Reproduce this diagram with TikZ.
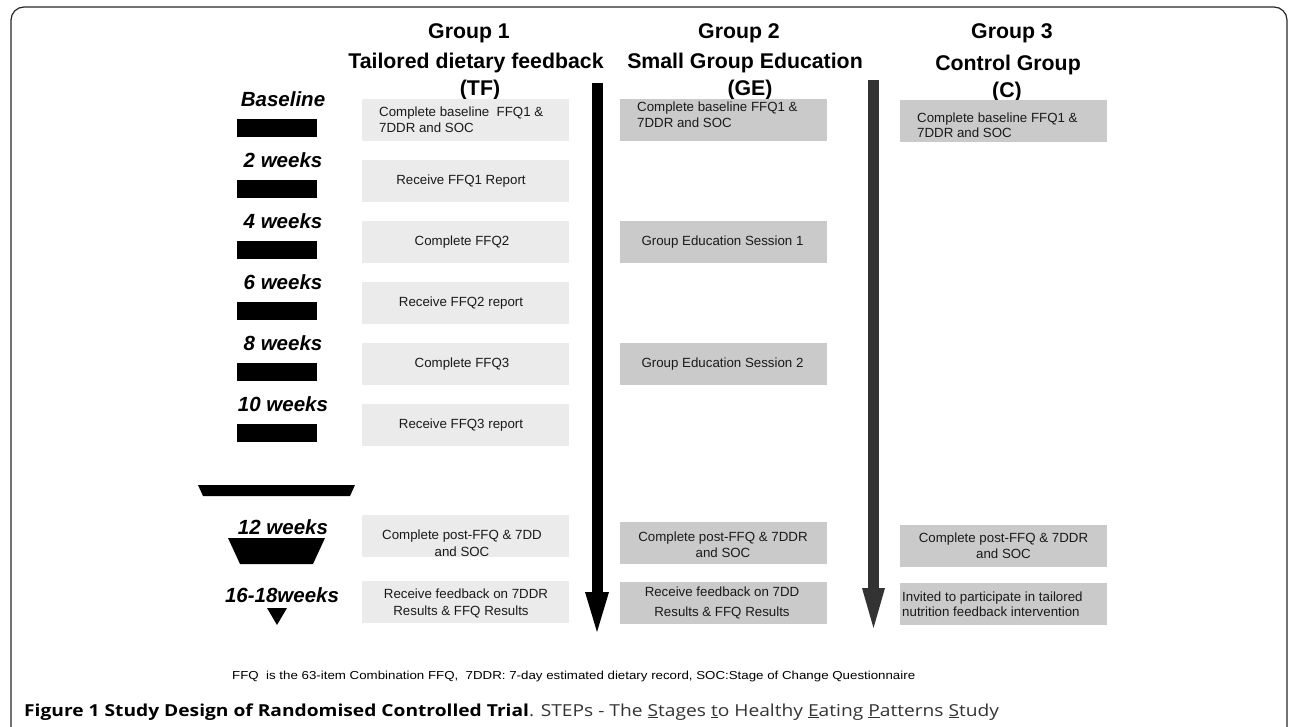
\documentclass[tikz,border=0pt]{standalone}
\usepackage{fontspec}
\usepackage{graphicx}
\setmainfont{Liberation Sans}
\newfontfamily\capfont{Open Sans}
\usetikzlibrary{calc}
\definecolor{tfgray}{HTML}{EBEBEB}
\definecolor{gegray}{HTML}{CACACA}
\definecolor{arrowgray}{HTML}{333333}
\definecolor{txtgray}{HTML}{1A1A1A}
\definecolor{capgray}{HTML}{333333}
\begin{document}
\begin{tikzpicture}[x=1pt,y=-1pt,
  box/.style={rectangle, inner sep=0pt, minimum width=207pt, minimum height=42pt, draw=none},
  tfbox/.style={box, fill=tfgray},
  gebox/.style={box, fill=gegray},
  txt/.style={inner sep=0pt, font=\fontsize{13.3}{16}\selectfont, text=txtgray},
  hdr/.style={inner sep=0pt, font=\fontsize{21.3}{24}\selectfont\bfseries},
  tlabel/.style={inner sep=0pt, font=\fontsize{20.5}{24}\selectfont\bfseries\itshape},
  tbar/.style={rectangle, fill=black, inner sep=0pt, minimum width=80pt, minimum height=18pt},
  frame/.style={line width=1.2pt, draw=black!85, rounded corners=13pt},
]
\useasboundingbox (0,0) rectangle (1290,727);
\clip (0,0) rectangle (1290,727);
\draw[frame] (11,7) rectangle (1287,745);

% headers
\node[hdr] (g1) at (469,33) {Group 1};
\node[hdr] (g1n) at (476,63) {Tailored dietary feedback};
\node[hdr] (g1a) at (480,90) {(TF)};
\node[hdr] (g2) at (739,33) {Group 2};
\node[hdr] (g2n) at (745,63) {Small Group Education};
\node[hdr] (g2a) at (750,90) {(GE)};
\node[hdr] (g3) at (1012,33) {Group 3};
\node[hdr] (g3n) at (1008,65) {Control Group};
\node[hdr] (g3a) at (1007,92) {(C)};

% time labels and bars
\node[tlabel] (t0) at (283,99) {Baseline};
\node[tlabel] (t1) at (283,160) {2 weeks};
\node[tlabel] (t2) at (283,221) {4 weeks};
\node[tlabel] (t3) at (283,282) {6 weeks};
\node[tlabel] (t4) at (283,343) {8 weeks};
\node[tlabel] (t5) at (283,404) {10 weeks};
\node[tlabel] (t6) at (283,527) {12 weeks};
\node[tlabel] (t7) at (282,595) {16-18weeks};
\foreach \i in {0,...,5}{
  \node[tbar] (b\i) at (277,{128+61*\i}) {};
}
\fill (198,485) -- (355,485) -- (350,496) -- (203,496) -- cycle;
\fill (228,538) -- (325,538) -- (313,564) -- (240,564) -- cycle;
\fill (267,608) -- (287,608) -- (277,625) -- cycle;

% arrows
\coordinate (a1top) at (597,83);
\coordinate (a1tip) at (597,632);
\draw[line width=11pt, black] (a1top) -- ($(a1tip)+(0,-39)$);
\fill[black] ($(a1tip)+(-12,-40)$) -- ($(a1tip)+(12,-40)$) -- (a1tip) -- cycle;
\coordinate (a2top) at (873.5,80);
\coordinate (a2tip) at (873.5,628);
\draw[line width=11pt, arrowgray] (a2top) -- ($(a2tip)+(0,-39)$);
\fill[arrowgray] ($(a2tip)+(-11.5,-40)$) -- ($(a2tip)+(11.5,-40)$) -- (a2tip) -- cycle;

% TF column
\node[tfbox] (tf0) at (465.5,120) {};
\node[tfbox] (tf1) at (465.5,181) {};
\node[tfbox] (tf2) at (465.5,242) {};
\node[tfbox] (tf3) at (465.5,303) {};
\node[tfbox] (tf4) at (465.5,364) {};
\node[tfbox] (tf5) at (465.5,425) {};
\node[tfbox] (tf6) at (465.5,535.5) {};
\node[tfbox] (tf7) at (465.5,602) {};
\node[txt, anchor=west, align=left] (tf0t) at (379,120) {Complete baseline\ \ FFQ1 \&\\7DDR and SOC};
\node[txt] (tf1t) at (461,181) {Receive FFQ1 Report};
\node[txt] (tf2t) at (462,242) {Complete FFQ2};
\node[txt] (tf3t) at (461,303) {Receive FFQ2 report};
\node[txt] (tf4t) at (462,364) {Complete FFQ3};
\node[txt] (tf5t) at (461,425) {Receive FFQ3 report};
\node[txt, align=center, font=\fontsize{13.3}{17}\selectfont] (tf6t) at (462,543.5) {Complete post-FFQ \& 7DD\\and SOC};
\node[txt, align=center, font=\fontsize{13.3}{17}\selectfont] (tf7t) at (466,603.5) {Receive feedback on 7DDR\\\hspace*{-10pt}Results \& FFQ Results};

% GE column
\node[gebox] (ge0) at (723,120) {};
\node[gebox] (ge2) at (723,242) {};
\node[gebox] (ge4) at (723,364) {};
\node[gebox] (ge6) at (723,542.5) {};
\node[gebox] (ge7) at (723,603) {};
\node[txt, anchor=west, align=left] (ge0t) at (637,115) {Complete baseline FFQ1 \&\\7DDR and SOC};
\node[txt] (ge2t) at (722.5,242) {Group Education Session 1};
\node[txt] (ge4t) at (722.5,364) {Group Education Session 2};
\node[txt, align=center] (ge6t) at (723,544.5) {Complete post-FFQ \& 7DDR\\and SOC};
\node[txt, align=center, font=\fontsize{13.3}{20}\selectfont] (ge7t) at (722,603) {Receive feedback on 7DD\\Results \& FFQ Results};

% C column
\node[gebox] (c0) at (1003.5,121.5) {};
\node[gebox] (c6) at (1003.5,545.5) {};
\node[gebox] (c7) at (1003.5,603.5) {};
\node[txt, anchor=west, align=left, font=\fontsize{13.3}{15}\selectfont] (c0t) at (917,125) {Complete baseline FFQ1 \&\\7DDR and SOC};
\node[txt, align=center] (c6t) at (1003.5,546) {Complete post-FFQ \& 7DDR\\and SOC};
\node[txt, anchor=west, align=left, font=\fontsize{13.3}{15}\selectfont] (c7t) at (902,604.5) {Invited to participate in tailored\\nutrition feedback intervention};

% footnote
\node[inner sep=0pt, anchor=base west] (fn) at (232,679) {\resizebox{683pt}{\height}{\fontsize{11.6}{13}\selectfont FFQ\ \ is the 63-item Combination FFQ,\ \ 7DDR: 7-day estimated dietary record, SOC:Stage of Change Questionnaire}};

% caption
\node[inner sep=0pt, anchor=base west] (cap) at (24,716) {\scalebox{1.163}[1]{\capfont\fontsize{16.5}{18}\selectfont\textbf{Figure 1 Study Design of Randomised Controlled Trial}\textcolor{capgray}{. STEPs - The \underline{S}tages \underline{t}o Healthy \underline{E}ating \underline{P}atterns \underline{S}tudy}}};
\end{tikzpicture}
\end{document}
